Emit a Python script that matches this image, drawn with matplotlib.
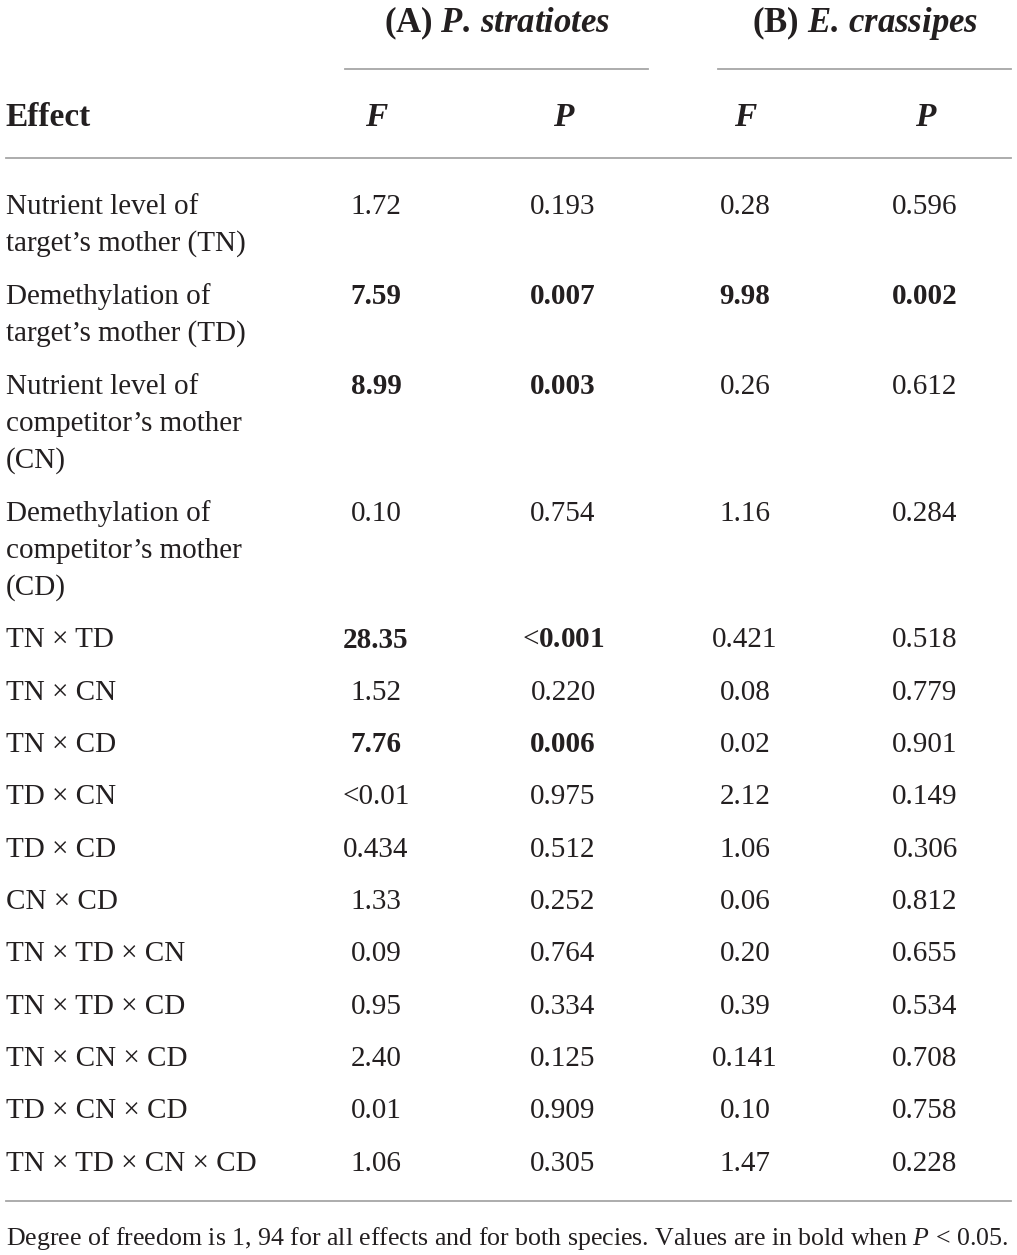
import matplotlib
matplotlib.use("Agg")
import matplotlib.pyplot as plt

plt.rcParams['font.family'] = ['Liberation Serif', 'DejaVu Serif']
plt.rcParams['mathtext.fontset'] = 'custom'
plt.rcParams['mathtext.rm'] = 'Liberation Serif'
plt.rcParams['mathtext.it'] = 'Liberation Serif:italic'
plt.rcParams['mathtext.bf'] = 'Liberation Serif:bold'
plt.rcParams['mathtext.bfit'] = 'Liberation Serif:italic:bold'

# table data
effects = ["Nutrient level of\ntarget's mother (TN)",
           "Demethylation of\ntarget's mother (TD)",
           "Nutrient level of\ncompetitor's mother\n(CN)",
           "Demethylation of\ncompetitor's mother\n(CD)",
           "TN × TD", "TN × CN", "TN × CD", "TD × CN", "TD × CD", "CN × CD",
           "TN × TD × CN", "TN × TD × CD", "TN × CN × CD", "TD × CN × CD",
           "TN × TD × CN × CD"]
F_A = ["1.72", "7.59", "8.99", "0.10", "28.35", "1.52", "7.76", "<0.01", "0.434",
       "1.33", "0.09", "0.95", "2.40", "0.01", "1.06"]
P_A = ["0.193", "0.007", "0.003", "0.754", "<0.001", "0.220", "0.006", "0.975",
       "0.512", "0.252", "0.764", "0.334", "0.125", "0.909", "0.305"]
F_B = ["0.28", "9.98", "0.26", "1.16", "0.421", "0.08", "0.02", "2.12", "1.06",
       "0.06", "0.20", "0.39", "0.141", "0.10", "1.47"]
P_B = ["0.596", "0.002", "0.612", "0.284", "0.518", "0.779", "0.901", "0.149",
       "0.306", "0.812", "0.655", "0.534", "0.708", "0.758", "0.228"]
effects = [e.replace("'", "\u2019") for e in effects]

fig = plt.figure(figsize=(10.17, 12.55), dpi=100)
ax = fig.add_axes([0, 0, 1, 1])
ax.set_xlim(0, 1017)
ax.set_ylim(1255, 0)
ax.axis('off')

txt = '#231f20'
rule = '#a6a6a6'
fs = 21
hfs = 24

# group headers
ax.text(497, 23, r"(A) $\mathbfit{P.\,stratiotes}$", fontsize=25, weight='bold',
        ha='center', va='center', color=txt)
ax.text(865, 23, r"(B) $\mathbfit{E.\,crassipes}$", fontsize=25, weight='bold',
        ha='center', va='center', color=txt)
ax.plot([345, 648], [69, 69], color=rule, lw=1.3)
ax.plot([718, 1011], [69, 69], color=rule, lw=1.3)

# column headers
cols = [376, 563, 745, 925]
ax.text(5, 118, "Effect", fontsize=hfs, weight='bold', ha='left', va='center', color=txt)
for x, h in zip(cols, ["F", "P", "F", "P"]):
    ax.text(x, 118, h, fontsize=hfs, weight='bold', style='italic',
            ha='center', va='center', color=txt)
ax.plot([6, 1011], [158, 158], color=rule, lw=1.3)

row_y = [207, 297, 387, 514, 640, 693, 745, 797, 850, 902, 954, 1007, 1059, 1111, 1164]
line_h = 37


def pval(s):
    return float(s.replace("<", ""))


def cell(x, y, s, bold):
    if bold and s.startswith("<"):
        s = "<$\\mathbf{" + s[1:] + "}$"
        ax.text(x, y, s, fontsize=fs, ha='center', va='center', color=txt)
    else:
        ax.text(x, y, s, fontsize=fs, weight='bold' if bold else 'normal',
                ha='center', va='center', color=txt)


for i, eff in enumerate(effects):
    y = row_y[i]
    for k, line in enumerate(eff.split("\n")):
        ax.text(6, y + k * line_h, line, fontsize=fs, ha='left', va='center', color=txt)
    ba = pval(P_A[i]) < 0.05
    bb = pval(P_B[i]) < 0.05
    cell(cols[0], y, F_A[i], ba)
    cell(cols[1], y, P_A[i], ba)
    cell(cols[2], y, F_B[i], bb)
    cell(cols[3], y, P_B[i], bb)

ax.plot([6, 1011], [1201, 1201], color=rule, lw=1.3)
ax.text(6, 1239, "Degree of freedom is 1, 94 for all effects and for both species. "
        "Values are in bold when $P$ < 0.05.", fontsize=18.6, ha='left', va='center',
        color=txt)

fig.savefig("out.png", dpi=100)
